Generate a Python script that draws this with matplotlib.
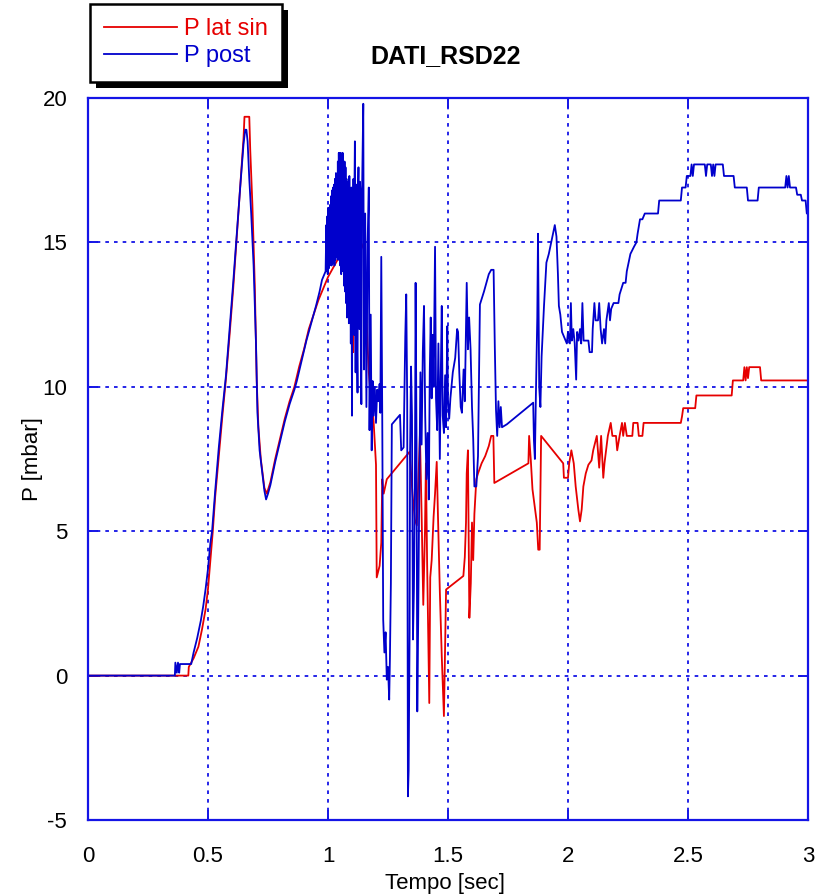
import matplotlib
matplotlib.use("Agg")
import matplotlib.pyplot as plt
from matplotlib.patches import Rectangle

plt.rcParams['font.family'] = ['Liberation Sans', 'DejaVu Sans']
plt.rcParams['axes.unicode_minus'] = False

# P lat sin (red)
t_lat = [0.0, 0.418, 0.42, 0.44, 0.46, 0.475, 0.49, 0.50, 0.51, 0.52, 0.53, 0.545, 0.56, 0.575,
         0.59, 0.605, 0.62, 0.635, 0.648, 0.652, 0.672, 0.676, 0.685, 0.695, 0.703, 0.71, 0.72,
         0.735, 0.745, 0.76, 0.78, 0.80, 0.82, 0.84, 0.86, 0.88, 0.90, 0.92, 0.94, 0.96, 0.98,
         1.00, 1.02, 1.04, 1.06, 1.08, 1.10, 1.105, 1.11, 1.125, 1.14, 1.15, 1.155, 1.16, 1.165,
         1.17, 1.175, 1.18, 1.19, 1.20, 1.203, 1.215, 1.222, 1.226, 1.232, 1.245, 1.34, 1.352,
         1.362, 1.37, 1.383, 1.39, 1.397, 1.404, 1.408, 1.413, 1.422, 1.426, 1.432, 1.44, 1.446,
         1.453, 1.458, 1.466, 1.474, 1.483, 1.492, 1.495, 1.564, 1.57, 1.575, 1.578, 1.583, 1.589,
         1.595, 1.60, 1.605, 1.61, 1.618, 1.625, 1.64, 1.655, 1.67, 1.68, 1.689, 1.693, 1.835,
         1.838, 1.845, 1.852, 1.865, 1.87, 1.876, 1.882, 1.888, 1.98, 1.983, 2.0, 2.005, 2.014,
         2.024, 2.032, 2.043, 2.05, 2.057, 2.064, 2.074, 2.085, 2.098, 2.105, 2.12, 2.13, 2.138,
         2.147, 2.152, 2.166, 2.178, 2.185, 2.2, 2.205, 2.215, 2.225, 2.23, 2.237, 2.245, 2.268,
         2.272, 2.29, 2.295, 2.31, 2.315, 2.47, 2.475, 2.48, 2.53, 2.535, 2.682, 2.687, 2.73,
         2.735, 2.74, 2.745, 2.75, 2.755, 2.8, 2.805, 3.0]
p_lat = [0, 0, 0.3, 0.6, 1.0, 1.6, 2.3, 3.0, 4.0, 5.0, 6.2, 7.6, 9.0, 10.3,
         11.8, 13.4, 15.2, 17.0, 18.6, 19.35, 19.35, 18.2, 16.3, 13.5, 10.2, 8.6, 7.5,
         6.5, 6.3, 6.7, 7.5, 8.2, 8.9, 9.5, 10.0, 10.7, 11.3, 12.0, 12.5, 13.0, 13.4,
         13.8, 14.1, 14.4, 14.5, 14.2, 12.0, 11.2, 13.5, 14.4, 14.8, 15.0, 13.2, 12.6, 11.4,
         10.5, 10.0, 9.6, 8.8, 7.3, 3.4, 3.8, 4.6, 6.8, 6.3, 6.8, 7.75, 6.3,
         5.4, 5.2, 8.35, 5.6, 2.45, 5.0, 7.35, 3.9, -0.95, 3.4, 4.0, 5.5, 6.3,
         7.4, 5.6, 2.9, 0.67, -1.4, 2.98, 3.0, 3.45, 4.1, 5.3, 7.0, 7.8, 2.0,
         3.2, 5.3, 4.0, 5.6, 6.8, 7.0, 7.35, 7.6, 7.95, 8.3, 8.3, 6.67, 7.35,
         8.3, 7.47, 6.45, 5.6, 5.3, 4.36, 4.36, 8.3, 7.35, 6.85, 6.85, 7.35, 7.8,
         7.35, 6.55, 5.75, 5.34, 5.75, 6.55, 7.0, 7.3, 7.45, 7.8, 8.3, 7.2, 8.3,
         6.85, 7.35, 8.3, 8.75, 8.3, 8.3, 7.8, 8.3, 8.75, 8.3, 8.75, 8.3, 8.3,
         8.75, 8.75, 8.3, 8.3, 8.75, 8.75, 8.97, 9.26, 9.26, 9.7, 9.7, 10.22, 10.22,
         10.68, 10.22, 10.68, 10.3, 10.68, 10.68, 10.22, 10.22]

# P post (blue)
t_post = [0.0, 0.362, 0.364, 0.37, 0.375, 0.38, 0.383, 0.43, 0.44, 0.455, 0.47, 0.48, 0.49,
          0.50, 0.51, 0.517, 0.53, 0.545, 0.56, 0.575, 0.59, 0.605, 0.62, 0.635, 0.648, 0.655,
          0.66, 0.665, 0.672, 0.68, 0.69, 0.70, 0.703, 0.706, 0.715, 0.728, 0.735, 0.742, 0.75,
          0.76, 0.78, 0.80, 0.82, 0.84, 0.86, 0.87, 0.89, 0.91, 0.93, 0.95, 0.965, 0.975, 0.985,
          0.99, 0.993, 0.995, 0.997, 0.999, 1.001, 1.003, 1.005, 1.007, 1.009, 1.011, 1.013,
          1.015, 1.017, 1.019, 1.021, 1.023, 1.025, 1.027, 1.029, 1.031, 1.033, 1.035, 1.037,
          1.039, 1.041, 1.043, 1.045, 1.047, 1.049, 1.051, 1.053, 1.055, 1.057, 1.059, 1.061,
          1.063, 1.065, 1.067, 1.069, 1.071, 1.073, 1.075, 1.077, 1.079, 1.081, 1.083, 1.085,
          1.087, 1.089, 1.091, 1.093, 1.095, 1.097, 1.100, 1.102, 1.104, 1.106, 1.108, 1.110,
          1.112, 1.115, 1.117, 1.119, 1.121, 1.123, 1.125, 1.127, 1.129, 1.131, 1.133, 1.135,
          1.137, 1.139, 1.141, 1.143, 1.147, 1.150, 1.155, 1.160, 1.165, 1.170, 1.173, 1.178,
          1.182, 1.186, 1.19, 1.195, 1.20, 1.205, 1.21, 1.215, 1.218, 1.222, 1.226, 1.23, 1.235,
          1.24, 1.245, 1.25, 1.255, 1.258, 1.262, 1.266, 1.30, 1.305, 1.315, 1.322, 1.326, 1.33,
          1.333, 1.336, 1.34, 1.342, 1.346, 1.35, 1.354, 1.358, 1.362, 1.365, 1.369, 1.372,
          1.376, 1.38, 1.385, 1.39, 1.395, 1.40, 1.405, 1.41, 1.415, 1.42, 1.424, 1.428, 1.432,
          1.436, 1.44, 1.446, 1.45, 1.455, 1.46, 1.466, 1.47, 1.474, 1.478, 1.483, 1.488, 1.492,
          1.497, 1.50, 1.505, 1.51, 1.52, 1.53, 1.538, 1.542, 1.547, 1.553, 1.558, 1.565, 1.57,
          1.578, 1.583, 1.588, 1.594, 1.60, 1.605, 1.61, 1.618, 1.625, 1.633, 1.65, 1.66, 1.67,
          1.68, 1.69, 1.695, 1.70, 1.705, 1.71, 1.715, 1.72, 1.725, 1.745, 1.855, 1.858, 1.862,
          1.866, 1.872, 1.875, 1.88, 1.885, 1.89, 1.90, 1.91, 1.92, 1.935, 1.945, 1.952, 1.958,
          1.962, 1.968, 1.975, 1.985, 1.995, 2.0, 2.008, 2.012, 2.016, 2.022, 2.028, 2.034,
          2.038, 2.044, 2.05, 2.055, 2.06, 2.065, 2.075, 2.085, 2.09, 2.10, 2.103, 2.11, 2.115,
          2.125, 2.13, 2.136, 2.142, 2.15, 2.155, 2.16, 2.17, 2.175, 2.18, 2.19, 2.21, 2.215,
          2.23, 2.24, 2.245, 2.26, 2.275, 2.285, 2.29, 2.3, 2.31, 2.32, 2.375, 2.38, 2.47, 2.475,
          2.49, 2.495, 2.51, 2.515, 2.52, 2.525, 2.57, 2.575, 2.58, 2.595, 2.6, 2.605, 2.61,
          2.615, 2.645, 2.65, 2.69, 2.695, 2.745, 2.75, 2.79, 2.795, 2.905, 2.91, 2.915, 2.92,
          2.925, 2.95, 2.955, 2.97, 2.975, 2.99, 2.995, 3.0]
p_post = [0, 0, 0.45, 0.1, 0.45, 0.1, 0.4, 0.4, 0.8, 1.3, 1.9, 2.4, 3.0,
          3.7, 4.6, 5.0, 6.4, 7.9, 9.2, 10.4, 12.0, 13.6, 15.3, 17.0, 18.4, 18.9,
          18.9, 18.5, 17.2, 16.0, 14.2, 11.5, 10.2, 9.1, 7.8, 6.9, 6.4, 6.1, 6.3,
          6.6, 7.4, 8.1, 8.8, 9.4, 9.9, 10.2, 10.9, 11.6, 12.2, 12.8, 13.3, 13.7, 13.9,
          14.0, 15.6, 14.0, 15.9, 13.9, 16.2, 14.1, 16.0, 14.2, 16.3, 14.3, 16.6,
          14.2, 16.8, 14.4, 16.9, 14.3, 17.0, 14.2, 17.2, 14.4, 17.4, 14.5, 17.0,
          14.6, 17.8, 14.4, 18.1, 15.0, 18.1, 14.2, 18.1, 13.9, 17.9, 14.3, 18.1,
          14.0, 17.6, 13.5, 17.8, 13.3, 17.6, 12.9, 17.2, 12.4, 16.9, 13.2, 17.1,
          12.2, 17.3, 12.8, 16.6, 11.5, 16.9, 9.0, 16.4, 12.4, 17.2, 11.8, 16.6,
          18.5, 10.5, 16.2, 17.0, 11.4, 9.8, 16.5, 17.6, 12.6, 12.0, 17.1, 16.8,
          11.0, 9.4, 16.2, 17.5, 19.8, 10.6, 16.0, 9.3, 15.0, 16.9, 8.5, 12.5,
          7.8, 10.2, 9.0, 10.0, 8.75, 9.9, 9.5, 10.1, 9.1, 14.5, 9.0, 1.94, 0.8,
          1.5, -0.14, 0.3, -0.83, 0.6, 3.2, 8.7, 9.03, 7.8, 7.9, 11.75, 13.2, 9.5,
          -4.18, -3.3, 1.5, 7.8, 10.7, 9.0, 1.25, 3.0, 6.5, 13.6, 8.0, -1.24,
          2.05, 6.1, 10.5, 8.0, 11.2, 12.8, 9.0, 6.8, 8.4, 6.1, 10.5, 12.4, 9.6,
          11.8, 10.0, 14.85, 9.6, 8.5, 11.5, 7.5, 10.5, 12.8, 9.0, 8.4, 10.4, 8.6,
          12.1, 9.5, 8.9, 9.6, 10.5, 11.0, 12.0, 11.9, 10.5, 9.3, 9.1, 10.6, 9.5,
          13.6, 11.3, 12.4, 11.3, 9.3, 8.2, 6.55, 6.55, 7.6, 12.85, 13.3, 13.6, 13.9,
          14.05, 14.05, 11.4, 9.2, 8.3, 9.5, 8.6, 9.3, 8.6, 8.7, 9.45, 8.15, 7.5,
          9.6, 12.4, 15.3, 10.0, 9.3, 11.05, 12.8, 14.3, 14.6, 15.2, 15.6, 15.2, 13.9,
          12.8, 12.5, 11.9, 11.7, 11.5, 11.9, 11.5, 12.9, 11.6, 12.0, 11.5, 10.25,
          11.9, 11.6, 12.0, 11.5, 12.9, 11.6, 11.6, 11.6, 11.2, 11.2, 12.0, 12.9, 12.3,
          12.3, 12.9, 12.0, 11.5, 12.0, 11.5, 12.3, 12.9, 12.3, 12.7, 12.9, 12.9, 13.2,
          13.6, 13.6, 14.0, 14.6, 14.85, 15.0, 15.3, 15.8, 15.8, 16.0, 16.0, 16.45, 16.45, 16.9,
          16.9, 17.3, 17.3, 17.7, 17.3, 17.7, 17.7, 17.3, 17.7, 17.7, 17.3, 17.7, 17.3,
          17.7, 17.7, 17.3, 17.3, 16.9, 16.9, 16.45, 16.45, 16.9, 16.9, 17.3, 16.9, 17.3,
          16.9, 16.9, 16.65, 16.65, 16.45, 16.45, 16.0, 16.0]

x_ticks = [0, 0.5, 1, 1.5, 2, 2.5, 3]
x_ticklabels = ['0', '0.5', '1', '1.5', '2', '2.5', '3']
y_ticks = [-5, 0, 5, 10, 15, 20]

RED = '#e60000'
BLUE = '#0000cc'
FRAME = '#1414e6'

fig = plt.figure(figsize=(8.16, 8.96), dpi=100)
ax = fig.add_axes([88 / 816, 1 - 820 / 896, 720 / 816, 722 / 896])

l1, = ax.plot(t_lat, p_lat, color=RED, lw=1.3, label='P lat sin')
l2, = ax.plot(t_post, p_post, color=BLUE, lw=1.3, label='P post')

ax.set_xlim(0, 3)
ax.set_ylim(-5, 20)
ax.set_xticks(x_ticks)
ax.set_xticklabels(x_ticklabels)
ax.set_yticks(y_ticks)
ax.grid(True, color=FRAME, linestyle=(0, (2.0, 2.8)), lw=1.3)
for s in ax.spines.values():
    s.set_color(FRAME)
    s.set_linewidth(1.6)
ax.tick_params(axis='both', direction='in', top=True, right=True, length=7, width=1.4,
               color=FRAME, labelsize=16, labelcolor='black')
ax.tick_params(axis='x', pad=19)
ax.tick_params(axis='y', pad=15)

ax.set_xlabel('Tempo [sec]', fontsize=16)
ax.xaxis.set_label_coords(0.496, -0.073)
ax.set_ylabel('P [mbar]', fontsize=16)
ax.yaxis.set_label_coords(-0.062, 0.5)

fig.text(446 / 816, 1 - 56 / 896, 'DATI_RSD22', ha='center', va='center',
         fontsize=18, fontweight='bold')

leg = fig.legend(handles=[l1, l2], loc='upper left',
                 bbox_to_anchor=(90 / 816, 1 - 4 / 896), borderaxespad=0,
                 fontsize=17, labelcolor='linecolor', fancybox=False, framealpha=1,
                 edgecolor='black', handlelength=3.1, handletextpad=0.3,
                 labelspacing=0.22, borderpad=0.6)
leg.get_frame().set_linewidth(1.8)

# black drop shadow behind the legend box
fig.canvas.draw()
bb = leg.get_window_extent().transformed(fig.transFigure.inverted())
dx, dy = 6 / 816, 6 / 896
fig.patches.append(Rectangle((bb.x0 + dx, bb.y0 - dy), bb.width, bb.height,
                             transform=fig.transFigure, facecolor='black',
                             edgecolor='none', zorder=leg.get_zorder() - 0.5))

fig.savefig('out.png', dpi=100)
